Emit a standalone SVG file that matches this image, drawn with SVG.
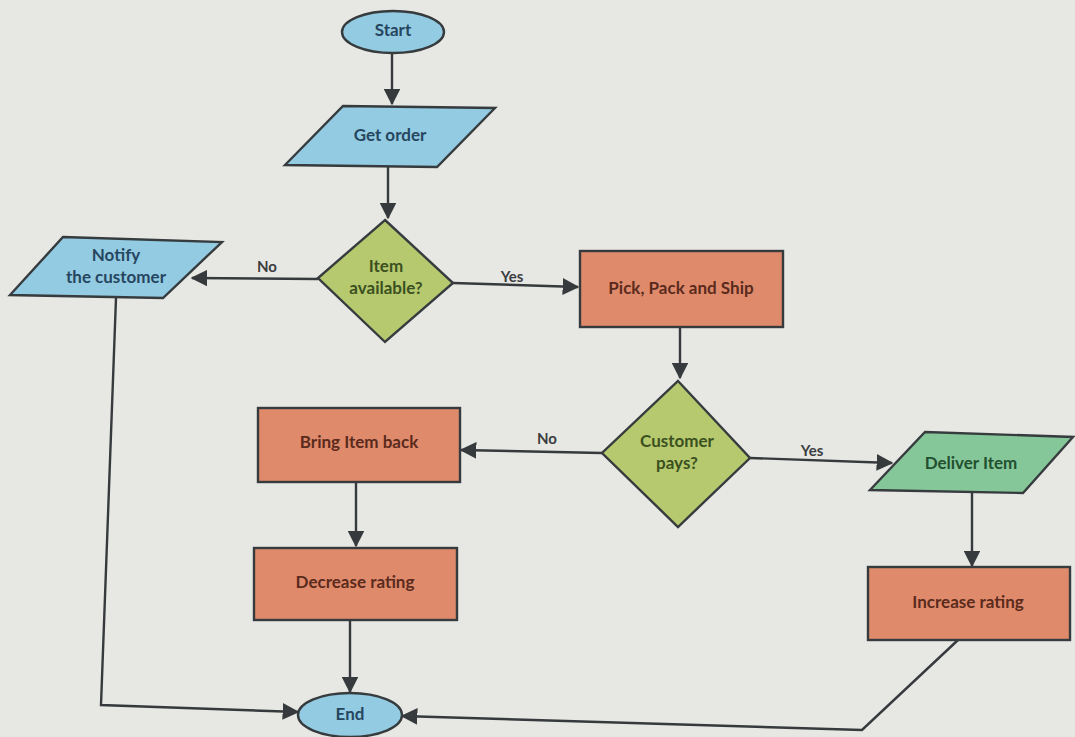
<svg xmlns="http://www.w3.org/2000/svg" width="1075" height="737" viewBox="0 0 1075 737">
  <style>
    .bg { fill: #e7e7e4; }
    .shape { stroke: #363b3e; stroke-width: 2.4; stroke-linejoin: miter; }
    .blue { fill: #93cbe2; }
    .green { fill: #b6c96e; }
    .orange { fill: #e08a6c; }
    .teal { fill: #86c79a; }
    .lbl { font-family: Lato, "Open Sans", "Liberation Sans", sans-serif; font-weight: 700; font-size: 17px; text-anchor: middle; dominant-baseline: middle; }
    .tb { fill: #264660; }
    .tg { fill: #3b5020; }
    .to { fill: #5a2a1c; }
    .tt { fill: #22502f; }
    .edge { fill: none; stroke: #363a3d; stroke-width: 2.4; }
    .elbl { font-family: Lato, "Open Sans", "Liberation Sans", sans-serif; font-weight: 700; font-size: 15px; fill: #3a3d40; text-anchor: middle; dominant-baseline: middle; }
  </style>
  <defs>
    <marker id="arrow" viewBox="0 0 12 12" refX="11" refY="6" markerWidth="7" markerHeight="7" markerUnits="strokeWidth" orient="auto">
      <path d="M0,0 L12,6 L0,12 Z" fill="#363a3d"/>
    </marker>
  </defs>

  <rect class="bg" x="0" y="0" width="1075" height="737"/>

  <g id="connectors">
    <path class="edge" d="M392,54 L392,104" marker-end="url(#arrow)"/>
    <path class="edge" d="M388,167 L388,218" marker-end="url(#arrow)"/>
    <path class="edge" d="M318,279 L192,278" marker-end="url(#arrow)"/>
    <path class="edge" d="M453,283 L578,287" marker-end="url(#arrow)"/>
    <path class="edge" d="M680,328 L680,378" marker-end="url(#arrow)"/>
    <path class="edge" d="M602,453 L461,450" marker-end="url(#arrow)"/>
    <path class="edge" d="M750,458 L892,463" marker-end="url(#arrow)"/>
    <path class="edge" d="M356,482 L356,546" marker-end="url(#arrow)"/>
    <path class="edge" d="M972,493 L972,566" marker-end="url(#arrow)"/>
    <path class="edge" d="M350,620 L350,692" marker-end="url(#arrow)"/>
    <path class="edge" d="M116,298 L101,705 L298,712" marker-end="url(#arrow)"/>
    <path class="edge" d="M958,640 L862,730 L402,716" marker-end="url(#arrow)"/>
    <text class="elbl" x="267" y="268">No</text>
    <text class="elbl" x="512" y="278">Yes</text>
    <text class="elbl" x="547" y="440">No</text>
    <text class="elbl" x="812" y="452">Yes</text>
  </g>

  <g id="start">
    <ellipse class="shape blue" cx="393" cy="32" rx="51" ry="21"/>
    <text class="lbl tb" x="393" y="32">Start</text>
  </g>

  <g id="get-order">
    <polygon class="shape blue" points="343,106 495,108 437,167 285,165"/>
    <text class="lbl tb" x="390" y="137">Get order</text>
  </g>

  <g id="item-available">
    <polygon class="shape green" points="385,220 453,283 385,342 318,278"/>
    <text class="lbl tg" x="386" y="268">Item</text>
    <text class="lbl tg" x="386" y="290">available?</text>
  </g>

  <g id="notify-customer">
    <polygon class="shape blue" points="63,237 222,242 163,298 10,295"/>
    <text class="lbl tb" x="116" y="257">Notify</text>
    <text class="lbl tb" x="116" y="279">the customer</text>
  </g>

  <g id="pick-pack-ship">
    <rect class="shape orange" x="580" y="251" width="203" height="76"/>
    <text class="lbl to" x="681" y="290">Pick, Pack and Ship</text>
  </g>

  <g id="customer-pays">
    <polygon class="shape green" points="678,381 750,458 678,527 602,453"/>
    <text class="lbl tg" x="677" y="443">Customer</text>
    <text class="lbl tg" x="677" y="465">pays?</text>
  </g>

  <g id="bring-item-back">
    <rect class="shape orange" x="258" y="408" width="202" height="74"/>
    <text class="lbl to" x="359" y="444">Bring Item back</text>
  </g>

  <g id="deliver-item">
    <polygon class="shape teal" points="925,432 1073,437 1023,493 870,490"/>
    <text class="lbl tt" x="971" y="465">Deliver Item</text>
  </g>

  <g id="decrease-rating">
    <rect class="shape orange" x="254" y="548" width="203" height="72"/>
    <text class="lbl to" x="355" y="584">Decrease rating</text>
  </g>

  <g id="increase-rating">
    <rect class="shape orange" x="868" y="567" width="202" height="73"/>
    <text class="lbl to" x="968" y="604">Increase rating</text>
  </g>

  <g id="end">
    <ellipse class="shape blue" cx="350" cy="715" rx="52" ry="22"/>
    <text class="lbl tb" x="350" y="716">End</text>
  </g>
</svg>
